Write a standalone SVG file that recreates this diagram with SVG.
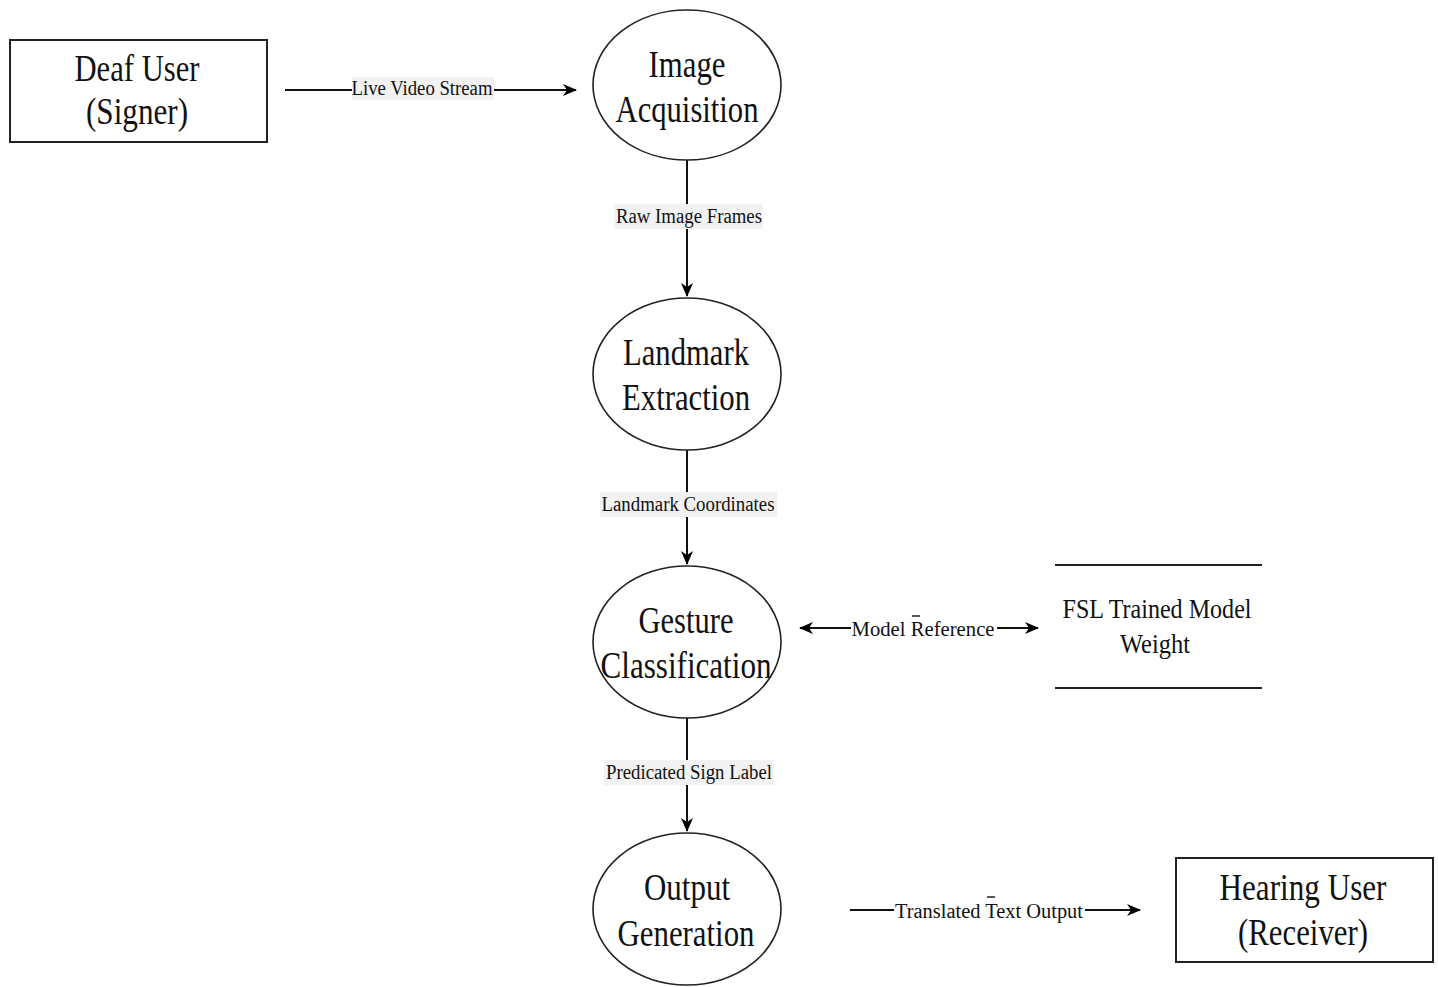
<svg xmlns="http://www.w3.org/2000/svg" width="1438" height="987" viewBox="0 0 1438 987">
  <defs>
    <marker id="arrow" viewBox="0 0 14 12" refX="13" refY="6" markerWidth="14" markerHeight="12" markerUnits="userSpaceOnUse" orient="auto-start-reverse">
      <path d="M0,0 L14,6 L0,12 L4,6 Z" fill="#000"/>
    </marker>
  </defs>
  <style>
    .node { fill: #fff; stroke: #222; stroke-width: 2; }
    .proc { fill: #fff; stroke: #222; stroke-width: 1.6; }
    .store { stroke: #222; stroke-width: 2; }
    .big { font-family: "Liberation Serif", "Times New Roman", serif; font-size: 38px; fill: #111; text-anchor: middle; }
    .mid { font-family: "Liberation Serif", "Times New Roman", serif; font-size: 28px; fill: #111; text-anchor: middle; }
    .lbl { font-family: "Liberation Serif", "Times New Roman", serif; font-size: 20px; fill: #111; text-anchor: middle; }
    .flow { stroke: #111; stroke-width: 2; fill: none; }
    .lblbg { fill: #f2f2f2; }
  </style>
  <rect width="1438" height="987" fill="#fff"/>

  <!-- Connectors -->
  <g id="connectors">
    <line class="flow" x1="285" y1="90" x2="576" y2="90" stroke="#444" marker-end="url(#arrow)"/>
    <rect class="lblbg" x="352" y="77" width="142" height="23"/>
    <text class="lbl" x="422" y="95" textLength="141" lengthAdjust="spacingAndGlyphs">Live Video Stream</text>

    <line class="flow" x1="687" y1="160" x2="687" y2="296" marker-end="url(#arrow)"/>
    <rect class="lblbg" x="614" y="204" width="149" height="25"/>
    <text class="lbl" x="689" y="223" textLength="146" lengthAdjust="spacingAndGlyphs">Raw Image Frames</text>

    <line class="flow" x1="687" y1="431" x2="687" y2="564" marker-end="url(#arrow)"/>
    <rect class="lblbg" x="600" y="492" width="177" height="25"/>
    <text class="lbl" x="688" y="511" textLength="173" lengthAdjust="spacingAndGlyphs">Landmark Coordinates</text>

    <line class="flow" x1="687" y1="718" x2="687" y2="831" marker-end="url(#arrow)"/>
    <rect class="lblbg" x="604" y="760" width="170" height="25"/>
    <text class="lbl" x="689" y="779" textLength="166" lengthAdjust="spacingAndGlyphs">Predicated Sign Label</text>

    <line class="flow" x1="800" y1="628" x2="1038" y2="628" marker-start="url(#arrow)" marker-end="url(#arrow)"/>
    <rect fill="#fff" x="851" y="615" width="146" height="26"/>
    <text class="lbl" x="923" y="636" textLength="143" lengthAdjust="spacingAndGlyphs">Model Reference</text>
    <line x1="912" y1="616" x2="920" y2="616" stroke="#222" stroke-width="1.5"/>

    <line class="flow" x1="850" y1="910" x2="1140" y2="910" marker-end="url(#arrow)"/>
    <rect fill="#fff" x="894" y="897" width="191" height="26"/>
    <text class="lbl" x="989" y="918" textLength="188" lengthAdjust="spacingAndGlyphs">Translated Text Output</text>
    <line x1="987" y1="897" x2="995" y2="897" stroke="#222" stroke-width="1.5"/>
  </g>

  <!-- External entity: signer -->
  <g id="deaf-user">
    <rect class="node" x="10" y="40" width="257" height="102"/>
    <text class="big" x="137" y="81" textLength="125" lengthAdjust="spacingAndGlyphs">Deaf User</text>
    <text class="big" x="137" y="124" textLength="102" lengthAdjust="spacingAndGlyphs">(Signer)</text>
  </g>

  <!-- Processes -->
  <g id="image-acquisition">
    <ellipse class="proc" cx="687" cy="85" rx="94" ry="75"/>
    <text class="big" x="687" y="77" textLength="77" lengthAdjust="spacingAndGlyphs">Image</text>
    <text class="big" x="687" y="122" textLength="143" lengthAdjust="spacingAndGlyphs">Acquisition</text>
  </g>

  <g id="landmark-extraction">
    <ellipse class="proc" cx="687" cy="374" rx="94" ry="76"/>
    <text class="big" x="686" y="365" textLength="126" lengthAdjust="spacingAndGlyphs">Landmark</text>
    <text class="big" x="686" y="410" textLength="128" lengthAdjust="spacingAndGlyphs">Extraction</text>
  </g>

  <g id="gesture-classification">
    <ellipse class="proc" cx="687" cy="642" rx="94" ry="76"/>
    <text class="big" x="686" y="633" textLength="95" lengthAdjust="spacingAndGlyphs">Gesture</text>
    <text class="big" x="686" y="678" textLength="171" lengthAdjust="spacingAndGlyphs">Classification</text>
  </g>

  <g id="output-generation">
    <ellipse class="proc" cx="687" cy="909" rx="94" ry="76"/>
    <text class="big" x="687" y="900" textLength="86" lengthAdjust="spacingAndGlyphs">Output</text>
    <text class="big" x="686" y="946" textLength="137" lengthAdjust="spacingAndGlyphs">Generation</text>
  </g>

  <!-- Data store -->
  <g id="fsl-model-store">
    <line class="store" x1="1055" y1="565" x2="1262" y2="565"/>
    <line class="store" x1="1055" y1="688" x2="1262" y2="688"/>
    <text class="mid" x="1157" y="618" textLength="189" lengthAdjust="spacingAndGlyphs">FSL Trained Model</text>
    <text class="mid" x="1155" y="653" textLength="70" lengthAdjust="spacingAndGlyphs">Weight</text>
  </g>

  <!-- External entity: receiver -->
  <g id="hearing-user">
    <rect class="node" x="1176" y="858" width="257" height="104"/>
    <text class="big" x="1303" y="900" textLength="167" lengthAdjust="spacingAndGlyphs">Hearing User</text>
    <text class="big" x="1303" y="945" textLength="130" lengthAdjust="spacingAndGlyphs">(Receiver)</text>
  </g>
</svg>
